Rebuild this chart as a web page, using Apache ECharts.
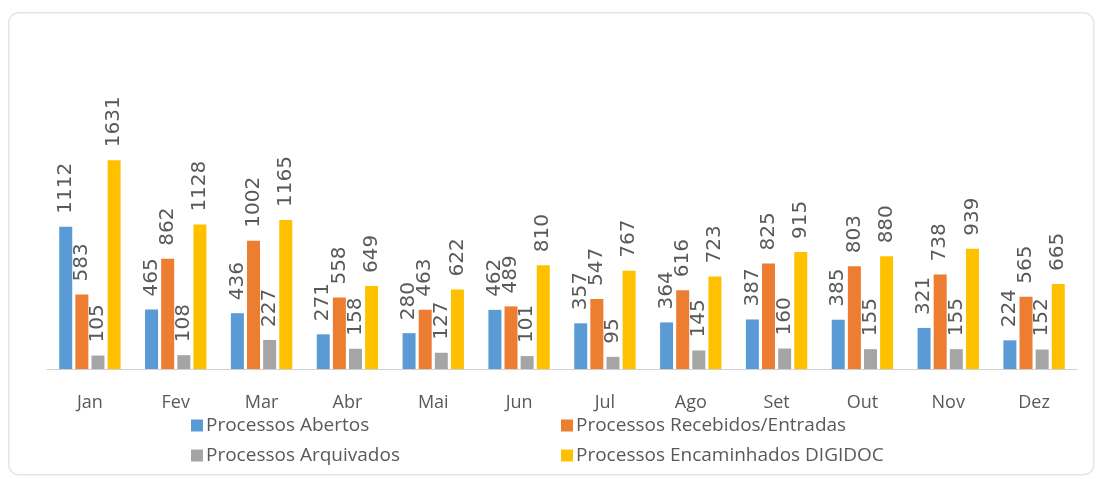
<!DOCTYPE html>
<html>
<head>
<meta charset="utf-8">
<script src="https://cdn.jsdelivr.net/npm/echarts@6/dist/echarts.min.js"></script>
<style>
html,body{margin:0;padding:0;background:#fff;}
#c{width:1099px;height:479px;}
</style>
</head>
<body>
<div id="c"></div>
<script>
const categories = ['Jan','Fev','Mar','Abr','Mai','Jun','Jul','Ago','Set','Out','Nov','Dez'];
const seriesNames = ['Processos Abertos','Processos Recebidos/Entradas','Processos Arquivados','Processos Encaminhados DIGIDOC'];
const abertos = [1112,465,436,271,280,462,357,364,387,385,321,224];
const recebidos = [583,862,1002,558,463,489,547,616,825,803,738,565];
const arquivados = [105,108,227,158,127,101,95,145,160,155,155,152];
const encaminhados = [1631,1128,1165,649,622,810,767,723,915,880,939,665];
const colors = ['#5B9BD5','#ED7D31','#A5A5A5','#FFC000'];

const font = '"Open Sans", "Liberation Sans", sans-serif';
const labelFont = '"DejaVu Sans", "Open Sans", sans-serif';
const values = [abertos, recebidos, arquivados, encaminhados];

const chart = echarts.init(document.getElementById('c'), null, {renderer:'canvas'});
const legendPos = [
  {left:186, top:411},
  {left:556, top:411},
  {left:186, top:441},
  {left:556, top:441}
];
chart.setOption({
  animation:false,
  backgroundColor:'#fff',
  graphic:[{
    type:'rect', left:8, top:12, z:-10,
    shape:{width:1085, height:462, r:10},
    style:{fill:'#fff', stroke:'#e6e6e6', lineWidth:1.5}
  }],
  legend: seriesNames.map((n,i)=>({
    data:[n], left:legendPos[i].left, top:legendPos[i].top,
    icon:'rect', itemWidth:12, itemHeight:12, itemGap:4,
    textStyle:{fontFamily:font, fontSize:19, color:'#595959', padding:[0,0,0,-2]}
  })),
  grid:{left:47, right:22, top:113, bottom:110},
  xAxis:{
    type:'category', data:categories,
    axisLine:{lineStyle:{color:'#d0d0d0', width:1}},
    axisTick:{show:false},
    axisLabel:{fontFamily:font, fontSize:18, color:'#595959', margin:25}
  },
  yAxis:{
    type:'value', min:0, max:2000, show:false,
    splitLine:{show:false}
  },
  series: seriesNames.map((n,i)=>({
    name:n, type:'bar', data:values[i],
    itemStyle:{color:colors[i]},
    barWidth:13, barGap:'24%', barCategoryGap:'29%',
    label:{
      show:true, position:'top', rotate:90, align:'left', verticalAlign:'middle',
      distance:13, fontFamily:labelFont, fontSize:20, color:'#595959'
    }
  }))
});
</script>
</body>
</html>
